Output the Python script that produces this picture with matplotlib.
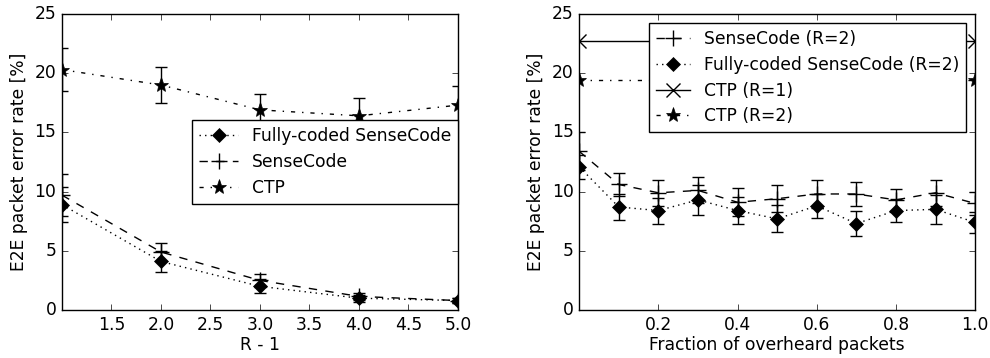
import numpy as np
import matplotlib
matplotlib.use("Agg")
import matplotlib.pyplot as plt

plt.style.use('classic')
plt.rcParams['font.family'] = ['DejaVu Sans']
plt.rcParams['font.size'] = 12.3
plt.rcParams['savefig.facecolor'] = 'white'
plt.rcParams['figure.facecolor'] = 'white'

# left panel: error rate vs R - 1
r_minus_1 = [1, 2, 3, 4, 5]
full_left = [8.9, 4.1, 2.0, 1.0, 0.8]
full_left_err = [1.45, 0.85, 0.6, 0.3, 0.2]
sense_left = [9.7, 4.9, 2.5, 1.15, 0.8]
sense_left_err = [1.8, 0.8, 0.55, 0.3, 0.2]
ctp_left = [20.3, 19.0, 16.9, 16.4, 17.3]
ctp_left_err = [1.8, 1.5, 1.3, 1.5, 1.6]

# right panel: error rate vs fraction of overheard packets
fraction = [0.0, 0.1, 0.2, 0.3, 0.4, 0.5, 0.6, 0.7, 0.8, 0.9, 1.0]
sense_right = [13.4, 10.6, 9.9, 10.1, 9.1, 9.4, 9.8, 9.8, 9.3, 9.9, 9.0]
sense_right_err = [1.6, 1.0, 1.1, 1.1, 1.2, 1.15, 1.2, 1.0, 0.95, 1.1, 1.0]
full_right = [12.1, 8.7, 8.4, 9.3, 8.4, 7.7, 8.8, 7.3, 8.4, 8.5, 7.4]
full_right_err = [1.0, 1.1, 1.1, 1.25, 1.15, 1.15, 1.0, 1.05, 1.0, 1.25, 0.9]
ctp_frac = [0.0, 1.0]
ctp_r1 = [22.7, 22.7]
ctp_r2 = [19.4, 19.4]

fig = plt.figure(figsize=(9.9, 3.58), dpi=100)
ax1 = fig.add_axes([0.0626, 0.134, 0.4, 0.827])
ax2 = fig.add_axes([0.585, 0.134, 0.4, 0.827])

eb = dict(fmt='none', ecolor='k', capsize=4, elinewidth=1, capthick=1)

# left
ax1.errorbar(r_minus_1, full_left, yerr=full_left_err, **eb)
ax1.errorbar(r_minus_1, sense_left, yerr=sense_left_err, **eb)
ax1.errorbar(r_minus_1, ctp_left, yerr=ctp_left_err, **eb)
ax1.plot(r_minus_1, full_left, 'k:', marker='D', ms=7.5, label='Fully-coded SenseCode')
ax1.plot(r_minus_1, sense_left, 'k--', marker='+', ms=12, mew=1, label='SenseCode')
ax1.plot(r_minus_1, ctp_left, 'k-.', marker='*', ms=11, label='CTP')
ax1.set_xlim(1, 5)
ax1.set_ylim(0, 25)
ax1.set_xticks([1.5, 2.0, 2.5, 3.0, 3.5, 4.0, 4.5, 5.0])
ax1.set_xticklabels(['1.5', '2.0', '2.5', '3.0', '3.5', '4.0', '4.5', '5.0'])
ax1.set_yticks([0, 5, 10, 15, 20, 25])
ax1.set_xlabel('R - 1', labelpad=2)
ax1.set_ylabel('E2E packet error rate [%]')
ax1.legend(loc='center right', bbox_to_anchor=(1.0, 0.5), borderaxespad=0,
           numpoints=1, fontsize=12.3, fancybox=False, labelspacing=0.45,
           handlelength=2.3)

# right
ax2.errorbar(fraction, sense_right, yerr=sense_right_err, **eb)
ax2.errorbar(fraction, full_right, yerr=full_right_err, **eb)
ax2.plot(fraction, sense_right, 'k--', marker='+', ms=12, mew=1, label='SenseCode (R=2)')
ax2.plot(fraction, full_right, 'k:', marker='D', ms=7.5, label='Fully-coded SenseCode (R=2)')
ax2.plot(ctp_frac, ctp_r1, 'k-', marker='x', ms=10, mew=1, label='CTP (R=1)')
ax2.plot(ctp_frac, ctp_r2, 'k-.', marker='*', ms=11, label='CTP (R=2)')
ax2.set_xlim(0, 1)
ax2.set_ylim(0, 25)
ax2.set_xticks([0.2, 0.4, 0.6, 0.8, 1.0])
ax2.set_xticklabels(['0.2', '0.4', '0.6', '0.8', '1.0'])
ax2.set_yticks([0, 5, 10, 15, 20, 25])
ax2.set_xlabel('Fraction of overheard packets', labelpad=2)
ax2.set_ylabel('E2E packet error rate [%]')
ax2.legend(loc='upper right', borderaxespad=0.55, numpoints=1, fontsize=12.3,
           fancybox=False, labelspacing=0.45)

fig.savefig('out.png', dpi=100)
